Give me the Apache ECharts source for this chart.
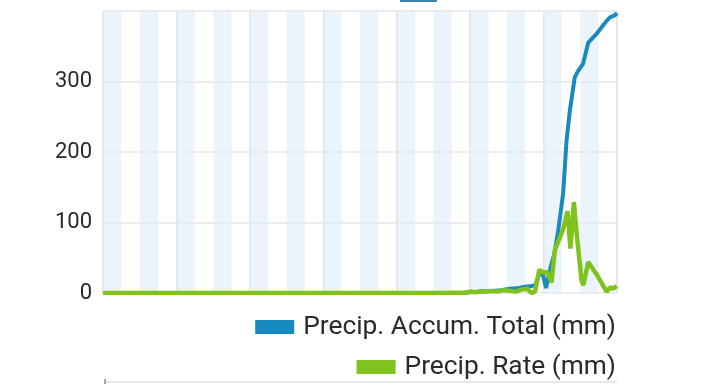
<!DOCTYPE html>
<html><head><meta charset="utf-8">
<script src="https://cdn.jsdelivr.net/npm/echarts@6/dist/echarts.min.js"></script>
<style>html,body{margin:0;padding:0;background:#fff}#c{width:720px;height:384px}</style>
</head><body><div id="c"></div>
<script>
// x values are hours from the start of the 7-day window
const accumHours = [0,117,120,124,127,130,133,136,138,140,141.3,142.6,143.7,144.8,146.2,147.5,148.8,150.4,151.5,152.6,154.2,155.3,156.9,158.6,161.4,164.6,165.7,167.3,168];
const accumTotal = [0,0,1,2,3,4,6,7,9,10,11,26,28,7,35,55,89,141,216,259,306,315,325,355,368,386,391,394,397];
const rateHours = [0,110,116,118,120,122,124,125,127,129,131,133,135,137,138.6,140.1,141.2,142.6,143.9,145.2,146.6,147.7,149.9,150.5,151.8,152.8,153.9,154.8,156.4,157,158.6,161.4,164.6,165.9,166.8,167.9];
const rateValues = [0,0,0.5,0,2,1,3,2,3,2,4,3,2,5,6,0,2,33,29,30,15,61,85,92,116,63,129,85,18,11,44,26,2,8,6,10];
const shadedBands = [[0,6],[12,18],[24,30],[36,42],[48,54],[60,66],[72,78],[84,90],[96,102],[108,114],[120,126],[132,138],[144,150],[156,162]];
const yTicks = [0,100,200,300,400];
const seriesNames = ['Precip. Accum. Total (mm)','Precip. Rate (mm)'];

const BLUE = '#178bbf', GREEN = '#80c31e';
const legendText = {fontSize: 26.3, color: '#2a2a2a', fontFamily: 'Roboto', padding: [0, 0, 0, 4]};
const chart = echarts.init(document.getElementById('c'));
chart.setOption({
  animation: false,
  textStyle: {fontFamily: 'Roboto'},
  grid: {left: 103, right: 103, top: 11, bottom: 91},
  legend: [
    {data: [{name: seriesNames[0], icon: 'rect'}], right: 104, top: 314, padding: 0, itemWidth: 39, itemHeight: 14, itemGap: 0,
     textStyle: legendText, selectedMode: false},
    {data: [{name: seriesNames[1], icon: 'rect'}], right: 104, top: 354, padding: 0, itemWidth: 39, itemHeight: 14, itemGap: 0,
     textStyle: legendText, selectedMode: false}
  ],
  xAxis: {
    type: 'value', min: 0, max: 168, interval: 24,
    axisLine: {show: false}, axisTick: {show: false}, axisLabel: {show: false},
    splitLine: {show: true, lineStyle: {color: '#e4e6e8', width: 2}}
  },
  yAxis: {
    type: 'value', min: yTicks[0], max: yTicks[yTicks.length-1], interval: 100,
    axisLine: {show: false}, axisTick: {show: false},
    axisLabel: {showMaxLabel: false, fontSize: 22, color: '#2a2a2a', margin: 11, fontFamily: 'Roboto'},
    splitLine: {lineStyle: {color: '#e4e6e8', width: 1.5}}
  },
  series: [
    {
      name: seriesNames[0], type: 'line', showSymbol: false, symbol: 'none',
      data: accumHours.map((h, i) => [h, accumTotal[i]]),
      lineStyle: {color: BLUE, width: 4}, itemStyle: {color: BLUE},
      markArea: {silent: true, itemStyle: {color: 'rgba(224,237,248,0.6)'},
        data: shadedBands.map(b => [{xAxis: b[0]}, {xAxis: b[1]}])}
    },
    {
      name: seriesNames[1], type: 'line', showSymbol: false, symbol: 'none',
      data: rateHours.map((h, i) => [h, rateValues[i]]),
      lineStyle: {color: GREEN, width: 4.5}, itemStyle: {color: GREEN}
    }
  ],
  graphic: [
    {type: 'rect', shape: {x: 400, y: 0, width: 37, height: 2}, style: {fill: '#3f87a8'}},
    {type: 'line', shape: {x1: 105, y1: 382, x2: 617, y2: 382}, style: {stroke: '#e0e0e0', lineWidth: 1.5}},
    {type: 'line', shape: {x1: 105, y1: 379, x2: 105, y2: 384}, style: {stroke: '#555', lineWidth: 1}}
  ]
});
</script></body></html>
